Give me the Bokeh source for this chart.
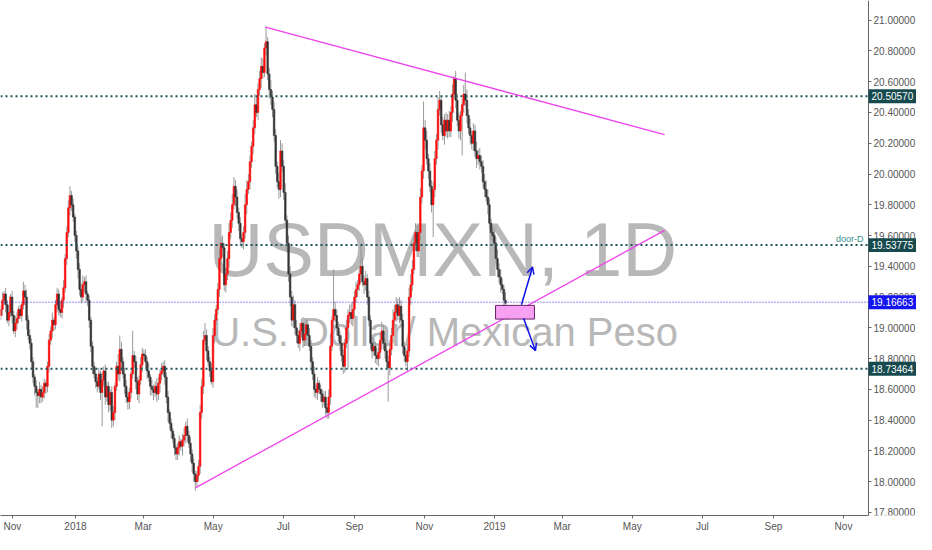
import json
from bokeh.plotting import figure
from bokeh.models import (ColumnDataSource, Label, Arrow, OpenHead, FixedTicker,
                          PrintfTickFormatter, CustomJSTickFormatter, Range1d)
from bokeh.embed import file_html
from bokeh.resources import INLINE
from bokeh.core.properties import value

# ---------------- data (USDMXN daily) ----------------
# x positions are days relative to 2019-01-01; one candle every 1.4 calendar days (5 per week)
first_day = -430.0
bar_step = 1.4
first_open = 19.08
closes = [
    19.12, 19.18, 19.22, 19.15, 19.05, 19.10, 19.20, 19.08, 18.98, 19.03,
    19.06, 19.12, 19.08, 19.15, 19.24, 19.20, 19.05, 18.95, 18.90, 18.78,
    18.68, 18.62, 18.58, 18.56, 18.60, 18.55, 18.58, 18.64, 18.62, 18.75,
    18.92, 18.98, 19.05, 19.02, 19.15, 19.22, 19.12, 19.10, 19.18, 19.26,
    19.45, 19.62, 19.78, 19.86, 19.80, 19.72, 19.60, 19.50, 19.38, 19.25,
    19.20, 19.28, 19.30, 19.22, 19.18, 19.05, 18.88, 18.75, 18.70, 18.65,
    18.62, 18.70, 18.58, 18.66, 18.72, 18.55, 18.62, 18.50, 18.58, 18.40,
    18.45, 18.62, 18.75, 18.70, 18.86, 18.78, 18.70, 18.62, 18.55, 18.52,
    18.58, 18.70, 18.82, 18.78, 18.65, 18.57, 18.66, 18.76, 18.83, 18.82,
    18.78, 18.72, 18.68, 18.62, 18.60, 18.58, 18.62, 18.57, 18.64, 18.70,
    18.72, 18.75, 18.68, 18.55, 18.45, 18.38, 18.33, 18.28, 18.22, 18.18,
    18.22, 18.26, 18.23, 18.27, 18.30, 18.36, 18.30, 18.25, 18.18, 18.12,
    18.05, 18.00, 18.04, 18.10, 18.45, 18.62, 18.92, 18.95, 18.85, 18.78,
    18.72, 18.65, 18.95, 19.05, 19.12, 19.25, 19.45, 19.55, 19.52, 19.28,
    19.35, 19.45, 19.62, 19.70, 19.80, 19.92, 19.85, 19.75, 19.68, 19.58,
    19.56, 19.62, 19.80, 19.90, 19.95, 20.08, 20.18, 20.30, 20.45, 20.40,
    20.55, 20.62, 20.70, 20.66, 20.82, 20.86, 20.65, 20.55, 20.50, 20.42,
    20.25, 20.05, 19.95, 19.90, 20.15, 20.05, 19.88, 19.70, 19.55, 19.35,
    19.20, 19.05, 19.15, 19.00, 18.95, 18.90, 18.98, 19.03, 18.92, 18.96,
    19.02, 18.95, 18.88, 18.78, 18.70, 18.60, 18.58, 18.64, 18.60, 18.57,
    18.52, 18.55, 18.48, 18.45, 18.55, 18.88, 19.05, 19.12, 19.08, 19.00,
    18.95, 18.90, 18.82, 18.75, 18.90, 19.00, 19.08, 19.10, 19.06, 19.12,
    19.20, 19.25, 19.28, 19.35, 19.40, 19.30, 19.28, 19.32, 19.20, 19.05,
    18.90, 18.85, 18.88, 18.82, 18.80, 18.84, 18.92, 18.98, 18.90, 18.85,
    18.78, 18.74, 18.86, 18.95, 19.05, 19.10, 19.15, 19.08, 19.14, 19.05,
    18.88, 18.82, 18.78, 18.85, 19.20, 19.28, 19.38, 19.55, 19.62, 19.50,
    19.62, 19.85, 20.02, 20.30, 20.22, 20.10, 20.02, 19.92, 19.80, 19.90,
    20.10, 20.22, 20.42, 20.48, 20.32, 20.25, 20.35, 20.28, 20.35, 20.28,
    20.40, 20.52, 20.62, 20.48, 20.35, 20.28, 20.38, 20.45, 20.52, 20.48,
    20.38, 20.30, 20.25, 20.20, 20.28, 20.15, 20.10, 20.12, 20.08, 20.05,
    19.95, 19.90, 19.85, 19.80, 19.68, 19.62, 19.60, 19.55, 19.45, 19.38,
    19.33, 19.28, 19.25, 19.18, 19.16,
]
# upper / lower wick lengths in hundredths (base-36 digits), one per candle
wick_hi = ("3524352435 4232645343 3242534323 4352343525 3456342334 4634232334 "
           "3425343324 4238953444 32g3433543 4352433543 5343423232 3424535343 "
           "3234556843 3554346453 4565764534 3476543575 45653a3464 5436754635 "
           "5463545346 4354353423 3443583q54 4354354565 4535e64534 3453545643 "
           "4465755464 4354676565 564h563545 5486354546 462545346e 7463546454 "
           "4565434546 45435").replace(" ", "")
wick_lo = ("3435243524 4324356345 46a8543454 4354354345 3435434564 4356454534 "
           "425m453545 4534563545 5434546353 4536453546 4354645354 4536454356 "
           "5634545363 4245345464 5464536455 4546354543 5464354655 4546545465 "
           "6454535454 4536454535 4354453545 454543r545 5454636454 4535454645 "
           "4m54546354 5436454354 454564545l 5464536454 4635456q54 5464546454 "
           "4536454545 45354").replace(" ", "")

# horizontal levels
levels_teal = [20.50570, 19.53775, 18.73464]
level_blue = 19.16663
level_note = "door-D"

# trend lines (day, price)
trend_top_days = [-199.5, 148.1]
trend_top_prices = [20.955, 20.256]
trend_bot_days = [-260.5, 148.1]
trend_bot_prices = [17.960, 19.634]

# target box and arrows
box_days = [0.9, 34.8]
box_prices = [19.057, 19.146]
arrow_up = [23.5, 19.150, 33.1, 19.396]
arrow_dn = [25.3, 19.063, 35.7, 18.851]

# axis ticks
price_ticks = [17.8, 18.0, 18.2, 18.4, 18.6, 18.8, 19.0, 19.2, 19.4, 19.6, 19.8, 20.0, 20.2,
               20.4, 20.6, 20.8, 21.0]
month_days = [-420, -365, -306, -245, -184, -122, -61, 0, 59, 120, 181, 243, 304]
month_labels = ["Nov", "2018", "Mar", "May", "Jul", "Sep", "Nov", "2019", "Mar", "May",
                "Jul", "Sep", "Nov"]

title_main = "USDMXN, 1D"
title_sub = "U.S. Dollar/ Mexican Peso"

# ---------------- build ----------------
n = len(closes)
xs = [first_day + bar_step * i for i in range(n)]
opens = [first_open] + closes[:-1]
highs = [max(o, c) + int(h, 36) / 100 for o, c, h in zip(opens, closes, wick_hi)]
lows = [min(o, c) - int(l, 36) / 100 for o, c, l in zip(opens, closes, wick_lo)]
tops = [max(o, c) for o, c in zip(opens, closes)]
bots = [min(o, c) for o, c in zip(opens, closes)]
cols = ["#ff0a0a" if c > o else "#333333" for o, c in zip(opens, closes)]
src = ColumnDataSource(dict(x=xs, high=highs, low=lows, top=tops, bottom=bots, color=cols))

FONT = "Liberation Sans"
W, H = 916, 534
BOTTOM = 17
PX_PER_DAY = 1.148
X0_PX = 494          # pixel of 2019-01-01
AXIS_PX = 868        # pixel of the price scale line
Y0, Y1 = 17.78, 21.128
px_price = (Y1 - Y0) / (H - BOTTOM)

x_start = -X0_PX / PX_PER_DAY
x_end = (W - X0_PX) / PX_PER_DAY
x_axis = (AXIS_PX - X0_PX) / PX_PER_DAY

p = figure(width=W, height=H, output_backend="svg", toolbar_location=None,
           x_range=Range1d(x_start, x_end), y_range=Range1d(Y0, Y1),
           y_axis_location="right", min_border_left=0, min_border_top=0,
           min_border_right=0, min_border_bottom=BOTTOM)
p.xgrid.visible = False
p.ygrid.visible = False
p.outline_line_color = None
p.background_fill_color = "white"
p.border_fill_color = "white"

# watermark
p.text(x=[-45.0], y=[19.509], text=[title_main], text_font=value(FONT),
       text_font_size=value("76px"), text_color="#b8b8b8", text_align="center",
       text_baseline="alphabetic")
p.text(x=[-43.5], y=[18.972], text=[title_sub], text_font=value(FONT),
       text_font_size=value("40px"), text_color="#b8b8b8", text_align="center",
       text_baseline="alphabetic")

# candles
p.segment(x0="x", y0="low", x1="x", y1="high", source=src, line_color="#9a9a9a", line_width=1)
p.vbar(x="x", top="top", bottom="bottom", width=1.35, source=src, fill_color="color",
       line_color="color", line_width=0.6)

# levels (stop at the price scale)
p.segment(x0=[x_start] * 3, x1=[x_axis] * 3, y0=levels_teal, y1=levels_teal,
          line_color="#1c5458", line_width=2, line_dash="2 3")
p.segment(x0=[x_start], x1=[x_axis], y0=[level_blue], y1=[level_blue],
          line_color="#2020e0", line_width=1, line_dash="1 2")

# trend lines
p.line(trend_top_days, trend_top_prices, line_color="#ee44ee", line_width=1.3)
p.line(trend_bot_days, trend_bot_prices, line_color="#ee44ee", line_width=1.3)

# box
p.quad(left=[box_days[0]], right=[box_days[1]], bottom=[box_prices[0]], top=[box_prices[1]],
       fill_color="#f59cf0", fill_alpha=0.95, line_color="#6a206a", line_width=1)

# arrows
for a in (arrow_up, arrow_dn):
    p.add_layout(Arrow(end=OpenHead(size=7, line_color="#1010e8", line_width=1.5),
                       x_start=a[0], y_start=a[1], x_end=a[2], y_end=a[3],
                       line_color="#1010e8", line_width=1.5))

# price scale (fixed inside the frame, at AXIS_PX)
ya = p.yaxis[0]
ya.fixed_location = x_axis
ya.ticker = FixedTicker(ticks=price_ticks)
ya.formatter = PrintfTickFormatter(format="%.5f")
ya.major_label_text_font = FONT
ya.major_label_text_font_size = "10px"
ya.major_label_text_color = "#555555"
ya.axis_line_color = "#666666"
ya.major_tick_line_color = "#666666"
ya.major_tick_out = 3
ya.major_tick_in = 0
ya.minor_tick_line_color = None
ya.major_label_standoff = 2

xa = p.xaxis[0]
xa.bounds = (x_start, x_axis)
xa.ticker = FixedTicker(ticks=month_days)
lab = json.dumps({str(d): s for d, s in zip(month_days, month_labels)})
xa.formatter = CustomJSTickFormatter(code="const m = " + lab + "; const k = String(Math.round(tick)); return (k in m) ? m[k] : '';")
xa.major_label_text_font = FONT
xa.major_label_text_font_size = "10px"
xa.major_label_text_color = "#555555"
xa.axis_line_color = "#666666"
xa.major_tick_line_color = "#666666"
xa.major_tick_out = 3
xa.major_tick_in = 0
xa.minor_tick_line_color = None
xa.major_label_standoff = 2

# price tags on the scale (drawn above the scale labels)
tag_vals = levels_teal + [level_blue]
tag_cols = ["#164a4e"] * 3 + ["#1414f0"]
half = 7 * px_price
r1 = p.quad(left=[x_axis] * 4, right=[x_end] * 4, bottom=[v - half for v in tag_vals],
            top=[v + half for v in tag_vals], fill_color=tag_cols, line_color=None)
r2 = p.text(x=[x_axis + 3 / PX_PER_DAY] * 4, y=tag_vals, text=["%.5f" % v for v in tag_vals],
            text_color="white", text_font=value(FONT), text_font_size=value("10px"),
            text_align="left", text_baseline="middle")
r1.level = "overlay"
r2.level = "overlay"

p.add_layout(Label(x=AXIS_PX - 5, x_units="screen", y=levels_teal[1], y_units="data",
                   text=level_note, text_color="#3a8e8e", text_font=FONT,
                   text_font_size="9px", text_align="right", text_baseline="bottom",
                   y_offset=1))

open("out.html", "w").write(file_html(p, INLINE))
